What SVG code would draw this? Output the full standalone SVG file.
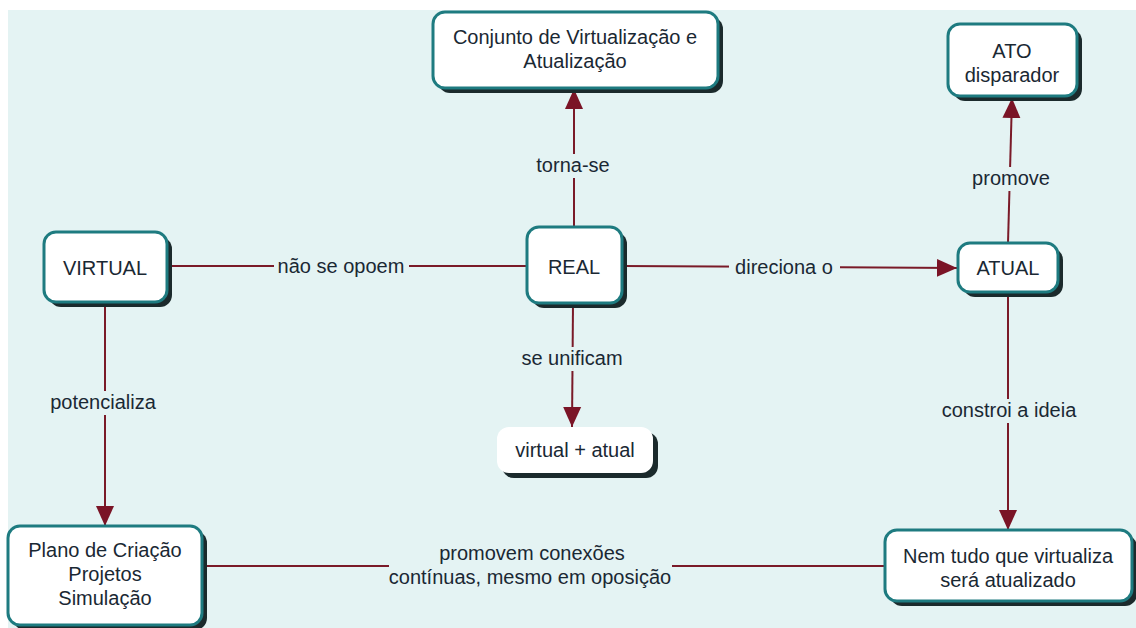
<svg xmlns="http://www.w3.org/2000/svg" width="1136" height="628" viewBox="0 0 1136 628">
<style>
.t{font-family:"Liberation Sans",Arial,sans-serif;font-size:20px;fill:#1a2833;text-anchor:middle}
.sh{fill:#1b2a2c}
.bx{fill:#ffffff;stroke:#1e7b80;stroke-width:3}
.ln{stroke:#7a1a28;stroke-width:2;fill:none}
.lb{fill:#e4f3f3}
</style>
<defs>
<marker id="ar" viewBox="0 0 20 20" refX="20" refY="10" markerWidth="20" markerHeight="20" markerUnits="userSpaceOnUse" orient="auto">
<path d="M0,1 L20,10 L0,19 Z" fill="#7a1426"/>
</marker>
</defs>
<rect x="0" y="0" width="1136" height="628" fill="#ffffff"/>
<rect x="8" y="10" width="1128" height="618" fill="#e4f3f3"/>
<g id="connectors">
<line class="ln" x1="167" y1="266" x2="527" y2="266"/>
<line class="ln" x1="622" y1="266" x2="957" y2="268" marker-end="url(#ar)"/>
<line class="ln" x1="574" y1="227" x2="574" y2="89" marker-end="url(#ar)"/>
<line class="ln" x1="573" y1="304" x2="572" y2="427" marker-end="url(#ar)"/>
<line class="ln" x1="1008" y1="243" x2="1012" y2="98" marker-end="url(#ar)"/>
<line class="ln" x1="1008" y1="293" x2="1008" y2="530" marker-end="url(#ar)"/>
<line class="ln" x1="105" y1="303" x2="105" y2="526" marker-end="url(#ar)"/>
<line class="ln" x1="202" y1="566" x2="885" y2="566"/>
<rect class="lb" x="274" y="255" width="135" height="24"/>
<text class="t" x="341" y="273">não se opoem</text>
<rect class="lb" x="729" y="256" width="111" height="24"/>
<text class="t" x="784" y="274">direciona o</text>
<rect class="lb" x="529" y="154" width="88" height="24"/>
<text class="t" x="573" y="172">torna-se</text>
<rect class="lb" x="514" y="347" width="116" height="24"/>
<text class="t" x="572" y="365">se unificam</text>
<rect class="lb" x="968" y="167" width="86" height="24"/>
<text class="t" x="1011" y="185">promove</text>
<rect class="lb" x="936" y="399" width="146" height="24"/>
<text class="t" x="1009" y="417">constroi a ideia</text>
<rect class="lb" x="43" y="391" width="121" height="24"/>
<text class="t" x="103" y="409">potencializa</text>
<rect class="lb" x="389" y="540" width="283" height="50"/>
<text class="t" x="532" y="560">promovem conexões</text>
<text class="t" x="530" y="584">contínuas, mesmo em oposição</text>
</g>
<g id="conjunto">
<rect class="sh" x="438" y="17" width="285" height="76" rx="12"/>
<rect class="bx" x="433" y="12" width="285" height="76" rx="12"/>
<text class="t" x="575" y="44">Conjunto de Virtualização e</text>
<text class="t" x="575" y="68">Atualização</text>
</g>
<g id="ato">
<rect class="sh" x="953" y="29" width="129" height="72" rx="12"/>
<rect class="bx" x="948" y="24" width="129" height="72" rx="12"/>
<text class="t" x="1012" y="58">ATO</text>
<text class="t" x="1012" y="82">disparador</text>
</g>
<g id="virtual">
<rect class="sh" x="49" y="237" width="123" height="70" rx="12"/>
<rect class="bx" x="44" y="232" width="123" height="70" rx="12"/>
<text class="t" x="105" y="275">VIRTUAL</text>
</g>
<g id="real">
<rect class="sh" x="532" y="232" width="95" height="76" rx="12"/>
<rect class="bx" x="527" y="227" width="95" height="76" rx="12"/>
<text class="t" x="574" y="274">REAL</text>
</g>
<g id="atual">
<rect class="sh" x="963" y="248" width="100" height="49" rx="12"/>
<rect class="bx" x="958" y="243" width="100" height="49" rx="12"/>
<text class="t" x="1008" y="275">ATUAL</text>
</g>
<g id="virtual-atual">
<rect class="sh" x="502" y="432" width="156" height="46" rx="12"/>
<rect x="497" y="427" width="156" height="46" rx="12" fill="#ffffff"/>
<text class="t" x="575" y="457">virtual + atual</text>
</g>
<g id="plano">
<rect class="sh" x="13" y="531" width="194" height="99" rx="12"/>
<rect class="bx" x="8" y="526" width="194" height="99" rx="12"/>
<text class="t" x="105" y="557">Plano de Criação</text>
<text class="t" x="105" y="581">Projetos</text>
<text class="t" x="105" y="605">Simulação</text>
</g>
<g id="nemtudo">
<rect class="sh" x="890" y="535" width="247" height="71" rx="12"/>
<rect class="bx" x="885" y="530" width="247" height="71" rx="12"/>
<text class="t" x="1008" y="563">Nem tudo que virtualiza</text>
<text class="t" x="1008" y="587">será atualizado</text>
</g>
</svg>
